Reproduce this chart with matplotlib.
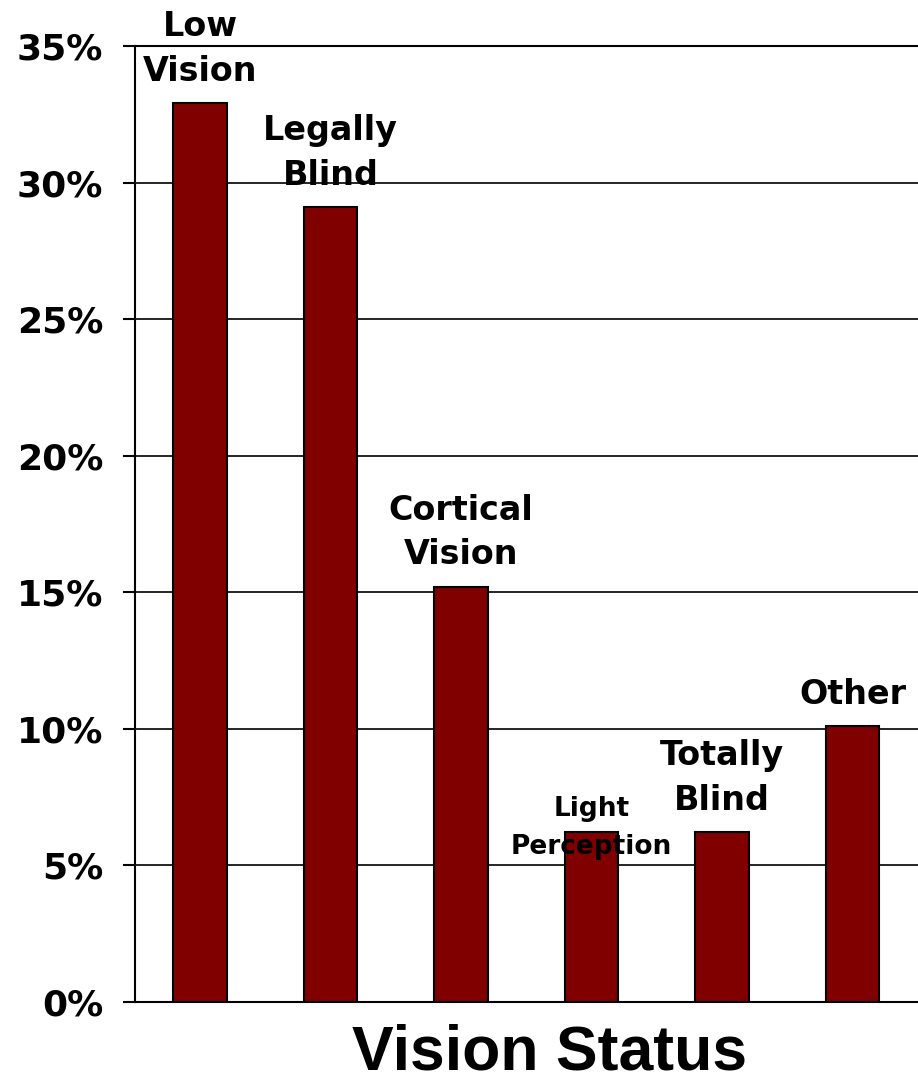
import matplotlib
matplotlib.use("Agg")
import matplotlib.pyplot as plt
from matplotlib.ticker import PercentFormatter

# vision status categories and share of children
labels = ["Low\nVision", "Legally\nBlind", "Cortical\nVision",
          "Light\nPerception", "Totally\nBlind", "Other"]
values = [0.329, 0.291, 0.152, 0.062, 0.062, 0.101]
yticks = [0, 0.05, 0.10, 0.15, 0.20, 0.25, 0.30, 0.35]

bar_color = "#800000"

fig = plt.figure(figsize=(9.18, 10.83), dpi=100)
ax = fig.add_axes([0.147, 0.075, 0.853, 0.8825])

x = range(len(values))
ax.bar(x, values, width=0.41, color=bar_color, edgecolor="black",
       linewidth=1.5, zorder=3)

ax.set_xlim(-0.5, 5.5)
ax.set_ylim(0, 0.35)
ax.set_yticks(yticks)
ax.yaxis.set_major_formatter(PercentFormatter(1.0, decimals=0))
ax.set_xticks([])
ax.yaxis.grid(True, color="black", linewidth=1.2, zorder=0)
ax.tick_params(axis="y", length=9, width=1.5, pad=14, labelsize=26)
for t in ax.get_yticklabels():
    t.set_fontweight("bold")

ax.spines["right"].set_visible(False)
for s in ("left", "bottom", "top"):
    ax.spines[s].set_linewidth(1.5)

# category labels above each bar
for i, (lab, v) in enumerate(zip(labels, values)):
    if lab.startswith("Light"):
        ax.annotate(lab, (i, v), xytext=(0, -20), textcoords="offset points",
                    ha="center", va="bottom", fontsize=19, fontweight="bold",
                    linespacing=1.6, zorder=4)
    else:
        ax.annotate(lab, (i, v), xytext=(0, 11), textcoords="offset points",
                    ha="center", va="bottom", fontsize=24, fontweight="bold",
                    linespacing=1.45, zorder=4)

fig.text(550 / 918, 14 / 1083, "Vision Status", ha="center", va="baseline",
         fontsize=45, fontweight="bold", family="Liberation Sans")

fig.savefig("out.png", dpi=100)
